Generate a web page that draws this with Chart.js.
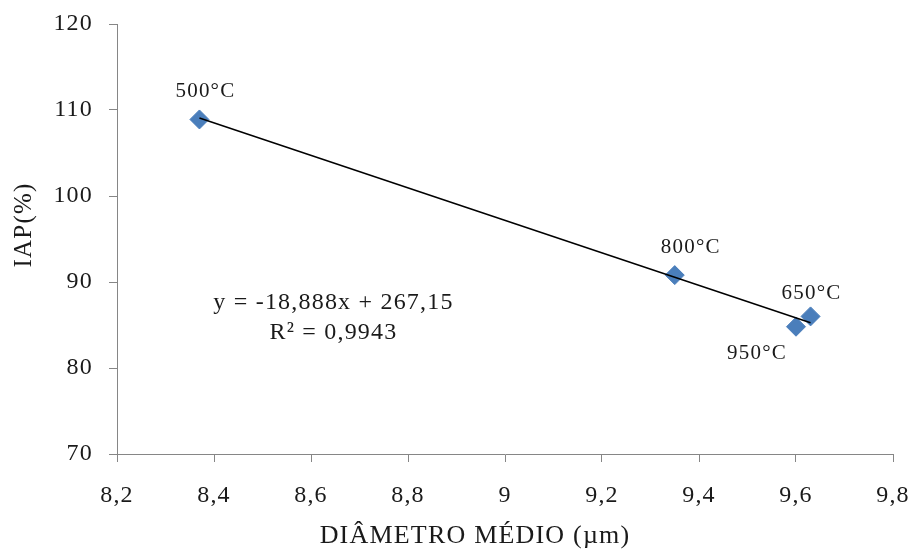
<!DOCTYPE html>
<html>
<head>
<meta charset="utf-8">
<script src="https://cdn.jsdelivr.net/npm/chart.js@4"></script>
<style>
  html, body { margin: 0; padding: 0; background: #fff; }
  #wrap { width: 908px; height: 550px; }
</style>
</head>
<body>
<div id="wrap"><canvas id="chart" width="908" height="550"></canvas></div>
<script>
const tempLabels = ['500°C', '800°C', '650°C', '950°C'];
const diameter = [8.37, 9.35, 9.63, 9.60];
const iap = [108.9, 90.8, 86.0, 84.8];

const trendX = [8.37, 9.63];
const trendY = [109.06, 85.26];

const xTickValues = [8.2, 8.4, 8.6, 8.8, 9.0, 9.2, 9.4, 9.6, 9.8];
const xTickLabels = ['8,2', '8,4', '8,6', '8,8', '9', '9,2', '9,4', '9,6', '9,8'];
const yTickValues = [70, 80, 90, 100, 110, 120];

const equationLines = ['y = -18,888x + 267,15', 'R² = 0,9943'];
const xTitle = 'DIÂMETRO MÉDIO (µm)';
const yTitle = 'IAP(%)';

const SERIF = '"Liberation Serif", "Times New Roman", serif';
const AXIS = '#868686';
const TEXT = '#1a1a1a';
const SPACING = '1.2px';

// label offsets around each marker, in px
const labelOffsets = [[6, -28], [16, -28], [1, -23], [-39, 27]];

const annotations = {
    id: 'annotations',
    beforeDraw(chart) {
        // the reference text is a bit wider than plain Times
        chart.ctx.letterSpacing = SPACING;
    },
    afterDatasetsDraw(chart) {
        const ctx = chart.ctx;
        const xs = chart.scales.x;
        const ys = chart.scales.y;
        const area = chart.chartArea;
        ctx.save();
        ctx.letterSpacing = SPACING;
        ctx.fillStyle = TEXT;
        ctx.textAlign = 'center';
        ctx.textBaseline = 'middle';

        ctx.font = '21px ' + SERIF;
        tempLabels.forEach((lbl, i) => {
            const px = xs.getPixelForValue(diameter[i]);
            const py = ys.getPixelForValue(iap[i]);
            ctx.fillText(lbl, px + labelOffsets[i][0], py + labelOffsets[i][1]);
        });

        ctx.font = '24px ' + SERIF;
        const ex = area.left + (area.right - area.left) * 0.279;
        const ey = area.top + (area.bottom - area.top) * 0.649;
        equationLines.forEach((line, i) => ctx.fillText(line, ex, ey + i * 30));

        ctx.font = '26px ' + SERIF;
        ctx.fillText(xTitle, 475, 536);

        ctx.translate(24, 225);
        ctx.rotate(-Math.PI / 2);
        ctx.font = '25px ' + SERIF;
        ctx.fillText(yTitle, 0, 0);
        ctx.restore();
    }
};

new Chart(document.getElementById('chart'), {
    type: 'scatter',
    plugins: [annotations],
    data: {
        datasets: [
            {
                type: 'line',
                data: trendX.map((x, i) => ({ x: x, y: trendY[i] })),
                borderColor: '#000',
                borderWidth: 1.5,
                pointRadius: 0,
                fill: false,
                order: 0
            },
            {
                data: diameter.map((x, i) => ({ x: x, y: iap[i] })),
                pointStyle: 'rectRot',
                pointRadius: 9.5,
                backgroundColor: '#4a7ebb',
                borderColor: '#4a7ebb',
                borderWidth: 1,
                order: 1
            }
        ]
    },
    options: {
        responsive: false,
        animation: false,
        layout: { padding: { top: 24, right: 15, left: 0, bottom: 0 } },
        plugins: {
            legend: { display: false },
            tooltip: { enabled: false }
        },
        scales: {
            x: {
                type: 'linear',
                min: 8.2,
                max: 9.8,
                afterBuildTicks: s => { s.ticks = xTickValues.map(v => ({ value: v })); },
                afterFit: s => { s.height = 96; s.paddingLeft = 0; s.paddingRight = 0; },
                border: { color: AXIS, width: 1 },
                grid: { drawOnChartArea: false, drawTicks: true, tickLength: 8, color: AXIS },
                ticks: {
                    color: TEXT,
                    padding: 19,
                    maxRotation: 0,
                    font: { family: SERIF, size: 24 },
                    callback: (v, i) => xTickLabels[i]
                }
            },
            y: {
                min: 70,
                max: 120,
                afterBuildTicks: s => { s.ticks = yTickValues.map(v => ({ value: v })); },
                afterFit: s => { s.width = 117; s.paddingTop = 0; s.paddingBottom = 0; },
                border: { color: AXIS, width: 1 },
                grid: { drawOnChartArea: false, drawTicks: true, tickLength: 8, color: AXIS },
                ticks: {
                    color: TEXT,
                    padding: 16,
                    font: { family: SERIF, size: 24 }
                }
            }
        }
    }
});
</script>
</body>
</html>
